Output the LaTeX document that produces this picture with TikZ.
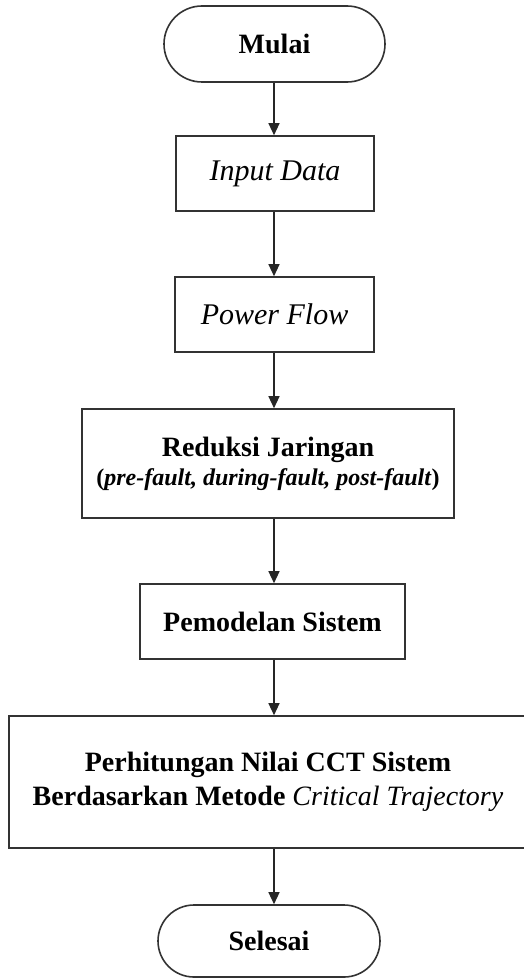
\documentclass[tikz,border=0pt]{standalone}
\usepackage{fontspec}
\setmainfont{Liberation Serif}
\usetikzlibrary{shapes.misc,arrows.meta,calc}
\begin{document}
\begin{tikzpicture}[x=1pt,y=1pt,
  box/.style={draw=black!80, line width=1.6pt, fill=white, inner sep=0pt, align=center,
    font=\fontsize{28}{34}\selectfont},
  term/.style={box, rounded rectangle},
  ital/.style={font=\fontsize{30}{34}\selectfont\itshape},
  arr/.style={line width=1.3pt, draw=black!85, -{Triangle[length=12pt,width=11pt]}}]
\useasboundingbox (0,0) rectangle (523,-979);
\fill[white] (0,0) rectangle (523,-979);
\coordinate (axis) at (274,0);
\node[term, minimum width=221pt, minimum height=76pt] (mulai) at (274.5,-44) {\textbf{Mulai}};
\node[box, ital, minimum width=198pt, minimum height=75pt] (input) at (275,-173.5) {Input Data};
\node[box, ital, minimum width=199pt, minimum height=75pt] (pf) at (274.5,-314.5) {Power Flow};
\node[box, minimum width=372pt, minimum height=109pt] (red) at (268,-463.5)
  {\textbf{Reduksi Jaringan}\\[-5pt] {\fontsize{24}{28}\selectfont\textbf{(\textit{pre-fault, during-fault, post-fault})}}};
\node[box, minimum width=265pt, minimum height=75pt] (pem) at (272.5,-621.5) {\textbf{Pemodelan Sistem}};
\node[box, minimum width=518pt, minimum height=132pt] (cct) at (268,-782)
  {\textbf{Perhitungan Nilai CCT Sistem}\\ \textbf{Berdasarkan Metode} \textit{Critical Trajectory}};
\node[term, minimum width=222pt, minimum height=72pt] (sel) at (269,-941) {\textbf{Selesai}};
\draw[arr] (mulai.south -| axis) -- (input.north -| axis);
\draw[arr] (input.south -| axis) -- (pf.north -| axis);
\draw[arr] (pf.south -| axis) -- (red.north -| axis);
\draw[arr] (red.south -| axis) -- (pem.north -| axis);
\draw[arr] (pem.south -| axis) -- (cct.north -| axis);
\draw[arr] (cct.south -| axis) -- (sel.north -| axis);
\end{tikzpicture}
\end{document}
